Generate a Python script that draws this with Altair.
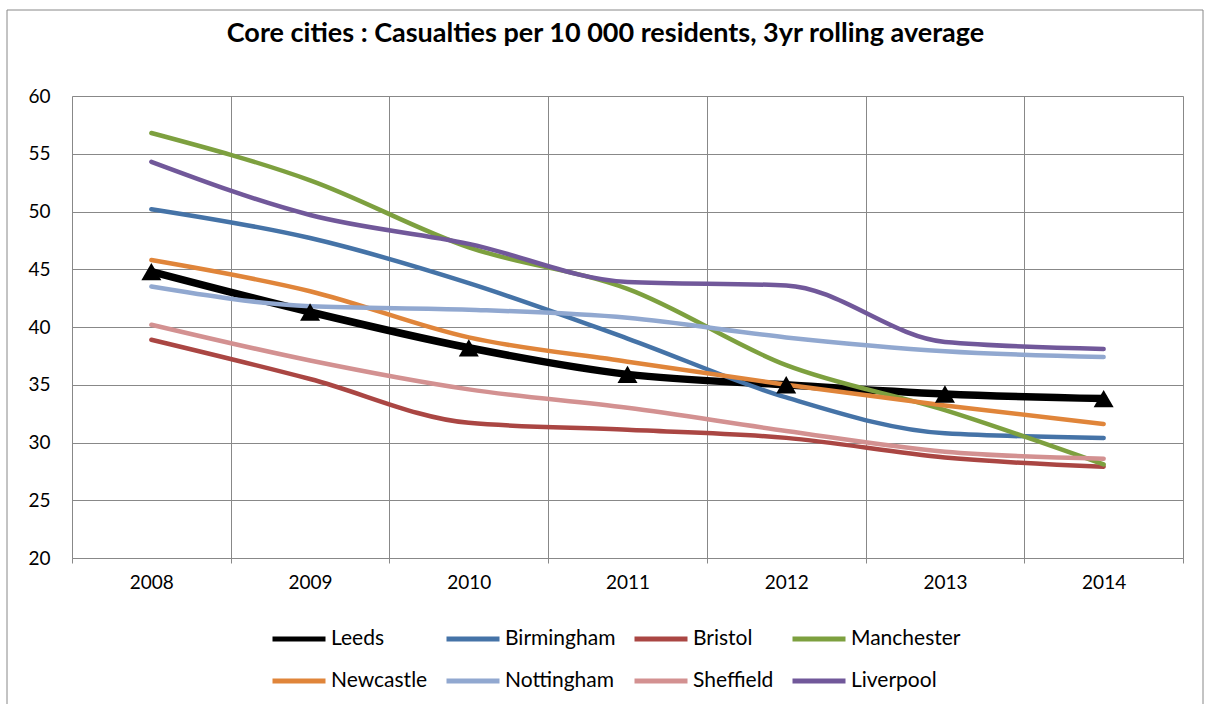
import altair as alt
import pandas as pd

years = ["2008", "2009", "2010", "2011", "2012", "2013", "2014"]
cities = ["Leeds", "Birmingham", "Bristol", "Manchester",
          "Newcastle", "Nottingham", "Sheffield", "Liverpool"]
leeds = [44.8, 41.3, 38.2, 35.9, 35.0, 34.2, 33.8]
birmingham = [50.2, 47.7, 43.8, 39.0, 33.9, 30.8, 30.4]
bristol = [38.9, 35.5, 31.7, 31.1, 30.4, 28.7, 27.9]
manchester = [56.8, 52.7, 46.9, 43.3, 36.7, 32.8, 28.1]
newcastle = [45.8, 43.1, 39.1, 37.0, 35.0, 33.2, 31.6]
nottingham = [43.5, 41.8, 41.5, 40.8, 39.1, 37.9, 37.4]
sheffield = [40.2, 37.1, 34.6, 33.0, 31.0, 29.2, 28.6]
liverpool = [54.3, 49.7, 47.2, 43.9, 43.6, 38.7, 38.1]

series = [leeds, birmingham, bristol, manchester, newcastle, nottingham, sheffield, liverpool]
colors = ["#000000", "#4573A7", "#AA4643", "#7DA03F", "#E0853A", "#91A8D0", "#D39191", "#71589A"]

rows = []
for ci, (c, vals) in enumerate(zip(cities, series)):
    for y, v in zip(years, vals):
        rows.append({"Year": y, "City": c, "Value": v, "order": ci})
df = pd.DataFrame(rows)

FONT = "Lato"

x_enc = alt.X("Year:O", title=None,
              scale=alt.Scale(type="band", paddingInner=0, paddingOuter=0),
              bandPosition=0.5,
              axis=alt.Axis(tickBand="extent", grid=True, labelAngle=0,
                            labelFontSize=19, labelColor="black", labelPadding=10,
                            domainColor="#888888", tickColor="#888888",
                            gridColor="#888888", ticks=True, tickSize=5))
y_enc = alt.Y("Value:Q", title=None,
              scale=alt.Scale(domain=[20, 60], nice=False, zero=False),
              axis=alt.Axis(values=list(range(20, 65, 5)), labelFontSize=19,
                            labelColor="black", labelPadding=22, ticks=False,
                            domain=False, gridColor="#888888"))

frame = alt.Chart(pd.DataFrame({"k": [0]})).mark_rect(
    fill=None, stroke="#888888", strokeWidth=1).encode(
    x=alt.value(-65), x2=alt.value(1131), y=alt.value(-86), y2=alt.value(620))

lines = alt.Chart(df).mark_line(interpolate="monotone", strokeCap="round",
                                strokeJoin="round").encode(
    x=x_enc,
    y=y_enc,
    color=alt.Color("City:N", scale=alt.Scale(domain=cities, range=colors),
                    sort=cities,
                    legend=alt.Legend(title=None, orient="none", legendX=198, legendY=514,
                                      columns=4, symbolType="stroke", symbolSize=2809,
                                      symbolStrokeWidth=5, labelFontSize=21,
                                      labelColor="black", labelFont=FONT,
                                      columnPadding=8, rowPadding=3, labelOffset=3,
                                      direction="horizontal")),
    strokeWidth=alt.condition(alt.datum.City == "Leeds", alt.value(7.5), alt.value(4.5)),
    order=alt.Order("order:Q"),
)

tri = alt.Chart(df).transform_filter(alt.datum.City == "Leeds").mark_point(
    shape="triangle-up", filled=True, size=400, color="black", opacity=1).encode(
    x=alt.X("Year:O", bandPosition=0.5), y="Value:Q")

chart = alt.layer(frame, lines, tri).properties(
    width=1111, height=462,
    title=alt.Title("Core cities : Casualties per 10 000 residents, 3yr rolling average",
                    fontSize=27, font=FONT, fontWeight="bold", color="black",
                    anchor="middle", dx=-22, offset=-38),
    autosize=alt.AutoSizeParams(type="none"),
    padding={"left": 72, "top": 96, "right": 22, "bottom": 146},
).configure_view(stroke="#888888").configure(font=FONT, background="white")

chart.save("out.html", embed_options={"renderer": "svg", "actions": False})
